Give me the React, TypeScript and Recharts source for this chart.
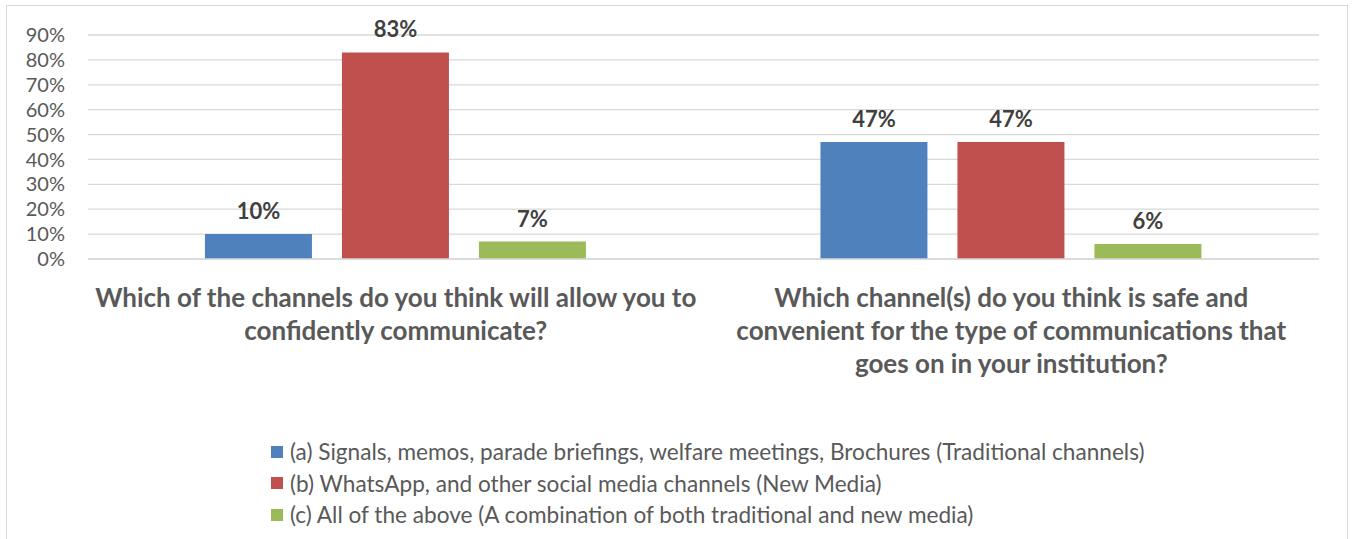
import { BarChart, Bar, XAxis, YAxis, CartesianGrid, LabelList } from "recharts";

const categories = [
  "Which of the channels do you think will allow you to\nconfidently communicate?",
  "Which channel(s) do you think is safe and\nconvenient for the type of communications that\ngoes on in your institution?",
];
const traditional = [0.1, 0.47];
const newMedia = [0.83, 0.47];
const combined = [0.07, 0.06];
const yTicks = [0, 0.1, 0.2, 0.3, 0.4, 0.5, 0.6, 0.7, 0.8, 0.9];

const seriesNames = [
  "(a) Signals, memos, parade briefings, welfare meetings, Brochures (Traditional channels)",
  "(b) WhatsApp, and other social media channels (New Media)",
  "(c) All of the above (A combination of both traditional and new media)",
];
const colors = ["#4f81bd", "#c0504d", "#9bbb59"];

const data = categories.map((q, i) => ({
  q,
  a: traditional[i],
  b: newMedia[i],
  c: combined[i],
}));

const FONT = "Lato, 'Open Sans', sans-serif";
const pct = (v: number) => `${Math.round(v * 100)}%`;

function CategoryTick({ x, y, payload }: any) {
  const lines = String(payload.value).split("\n");
  return (
    <text
      x={x}
      y={y + 46}
      textAnchor="middle"
      fill="#595959"
      fontFamily={FONT}
      fontWeight={700}
      fontSize={26}
    >
      {lines.map((line, i) => (
        <tspan key={i} x={x} dy={i === 0 ? 0 : 33}>
          {line}
        </tspan>
      ))}
    </text>
  );
}

export default function App() {
  return (
    <div
      style={{
        position: "absolute",
        left: 0,
        top: 0,
        width: 1352,
        height: 539,
        background: "#fff",
        overflow: "hidden",
        fontFamily: FONT,
      }}
    >
      <div
        style={{
          position: "absolute",
          left: 6,
          top: 5,
          width: 1340,
          height: 560,
          border: "1px solid #d9d9d9",
        }}
      />
      <div style={{ position: "absolute", left: 0, top: 0 }}>
        <BarChart
          width={1352}
          height={539}
          data={data}
          margin={{ top: 35, right: 33, left: 0, bottom: 0 }}
          barCategoryGap="19%"
          barGap={30}
        >
          <CartesianGrid vertical={false} stroke="#d9d9d9" strokeWidth={1.3} />
          <XAxis
            dataKey="q"
            height={280}
            axisLine={{ stroke: "#d9d9d9", strokeWidth: 1.3 }}
            tickLine={false}
            tickSize={0}
            interval={0}
            tick={<CategoryTick />}
          />
          <YAxis
            width={88}
            domain={[0, 0.9]}
            ticks={yTicks}
            interval={0}
            tickFormatter={pct}
            axisLine={false}
            tickLine={false}
            tickSize={0}
            tickMargin={23}
            tick={{ fill: "#595959", fontSize: 20, fontFamily: FONT }}
          />
          {["a", "b", "c"].map((k, i) => (
            <Bar key={k} dataKey={k} fill={colors[i]} isAnimationActive={false}>
              <LabelList
                dataKey={k}
                position="top"
                offset={15}
                formatter={(v: any) => pct(Number(v))}
                fill="#404040"
                fontSize={22}
                fontWeight={700}
                fontFamily={FONT}
              />
            </Bar>
          ))}
        </BarChart>
      </div>
      <div style={{ position: "absolute", left: 271, top: 436 }}>
        {seriesNames.map((name, i) => (
          <div
            key={name}
            style={{
              display: "flex",
              alignItems: "center",
              height: 31.5,
              fontSize: 22.6,
              color: "#595959",
              whiteSpace: "nowrap",
            }}
          >
            <span
              style={{
                display: "inline-block",
                width: 12,
                height: 12,
                background: colors[i],
                marginRight: 7,
              }}
            />
            {name}
          </div>
        ))}
      </div>
    </div>
  );
}
